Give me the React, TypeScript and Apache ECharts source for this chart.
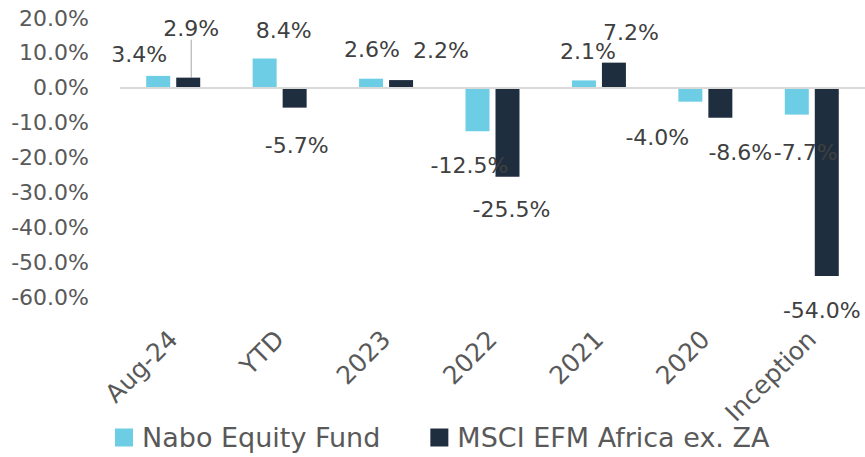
import React, { useEffect, useRef } from "react";
import * as echarts from "echarts";

const categories = ["Aug-24", "YTD", "2023", "2022", "2021", "2020", "Inception"];
const naboValues = [3.4, 8.4, 2.6, -12.5, 2.1, -4.0, -7.7];
const msciValues = [2.9, -5.7, 2.2, -25.5, 7.2, -8.6, -54.0];
const seriesNames = ["Nabo Equity Fund", "MSCI EFM Africa ex. ZA"];
const yTicks = { min: -60, max: 20, interval: 10 };

// label nudges (presentation only)
const naboLabelOffsets = [[-19, -5], [19, -12], [1, -13], [-8, 18], [4, -13], [-33, 20], [9, 22]];
const msciLabelOffsets = [[3, -33], [2, 22], [40, -14], [4, 17], [17, -14], [20, 19], [-5, 18]];

const FONT = "'DejaVu Sans', sans-serif";

export default function App() {
  const ref = useRef<HTMLDivElement>(null);
  useEffect(() => {
    document.body.style.margin = "0";
    if (!ref.current) return;
    const chart = echarts.init(ref.current, null, { renderer: "svg" });
    const lbl = () => ({
      show: true,
      position: "outside",
      distance: 5,
      fontSize: 22,
      fontFamily: FONT,
      color: "#404040",
      formatter: (p: any) => Number(p.value).toFixed(1) + "%",
    });
    const naboData = naboValues.map((v, i) => ({ value: v, label: { offset: naboLabelOffsets[i] } }));
    const msciData: any[] = msciValues.map((v) => ({ value: v }));
    msciData[0].labelLine = { show: true, lineStyle: { color: "#a6a6a6", width: 1 } };
    chart.setOption({
      animation: false,
      grid: { left: 120, right: 0, top: 18, bottom: 160 },
      legend: {
        data: seriesNames,
        left: 110,
        top: 419,
        icon: "rect",
        itemWidth: 18,
        itemHeight: 18,
        itemGap: 50,
        textStyle: { fontSize: 27, fontFamily: FONT, color: "#595959", padding: [0, 0, 0, 4] },
      },
      xAxis: {
        type: "category",
        data: categories,
        axisLine: { show: false, onZero: false },
        axisTick: { show: false },
        axisLabel: {
          rotate: 45,
          margin: 38,
          fontSize: 25,
          fontFamily: FONT,
          color: "#595959",
          interval: 0,
        },
      },
      yAxis: {
        type: "value",
        min: yTicks.min,
        max: yTicks.max,
        interval: yTicks.interval,
        splitLine: { show: false },
        axisLine: { show: false },
        axisTick: { show: false },
        axisLabel: {
          margin: 31,
          fontSize: 22,
          fontFamily: FONT,
          color: "#595959",
          formatter: (v: number) => v.toFixed(1) + "%",
        },
      },
      series: [
        {
          name: seriesNames[0],
          type: "bar",
          data: naboData,
          barWidth: 24,
          barGap: "25%",
          itemStyle: { color: "#6ccde5" },
          label: lbl(),
          markLine: {
            silent: true,
            symbol: "none",
            label: { show: false },
            lineStyle: { color: "#d9d9d9", width: 2, type: "solid" },
            data: [{ yAxis: 0 }],
          },
          z: 3,
        },
        {
          name: seriesNames[1],
          type: "bar",
          data: msciData,
          barWidth: 24,
          itemStyle: { color: "#1f2e3e" },
          label: lbl(),
          labelLayout: (p: any) => ({ dx: msciLabelOffsets[p.dataIndex][0], dy: msciLabelOffsets[p.dataIndex][1] }),
          z: 3,
        },
      ],
    });
    return () => chart.dispose();
  }, []);
  return <div ref={ref} style={{ width: 865, height: 457 }} />;
}
